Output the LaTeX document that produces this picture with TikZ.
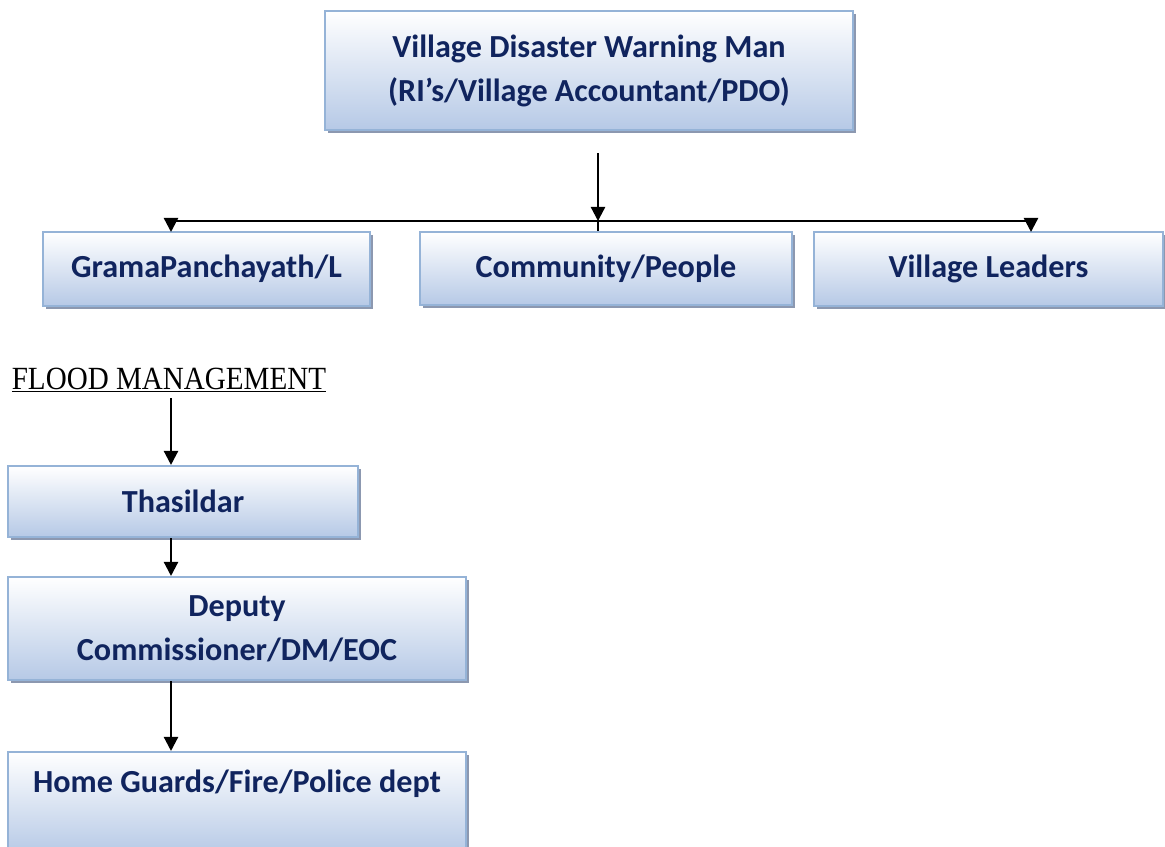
\documentclass[tikz,border=0pt]{standalone}
\usepackage{fontspec}
\setmainfont{Carlito}
\newfontfamily\floodfont[FakeStretch=0.9]{Liberation Serif}
\usetikzlibrary{arrows.meta,shadows}

\definecolor{boxtext}{RGB}{16,36,94}
\definecolor{boxline}{RGB}{149,179,215}
\definecolor{boxfill}{RGB}{182,201,230}
\definecolor{boxshadow}{RGB}{140,152,176}

\tikzset{
  level/.style={draw=boxline, line width=1.2pt, top color=white, bottom color=boxfill,
    text=boxtext, font=\fontsize{18.3}{25}\selectfont\bfseries, align=center,
    inner sep=0pt,
    drop shadow={shadow xshift=1.8pt, shadow yshift=-1.8pt, fill=boxshadow, opacity=1}},
  arrow/.style={line width=1.3pt, -{Triangle[width=8pt,length=8pt]}}
}

\begin{document}
\begin{tikzpicture}[x=0.02cm, y=-0.02cm]
            \useasboundingbox (0,0) rectangle (1165,846);
            \clip (0,0) rectangle (1165,846);
            % Define positions of the boxes
            \node[level, minimum width=10.56cm, minimum height=2.38cm] (warn) at (589, 70.5) {Village Disaster Warning Man\\(RI’s/Village Accountant/PDO)};
            \node[level, minimum width=6.54cm, minimum height=1.48cm] (gp) at (206.5, 269) {GramaPanchayath/L};
            \node[level, minimum width=7.44cm, minimum height=1.46cm] (comm) at (606, 268.5) {Community/People};
            \node[level, minimum width=6.98cm, minimum height=1.48cm] (leaders) at (988.5, 269) {Village Leaders};

            \node[font=\floodfont\fontsize{18.4}{20}\selectfont, inner sep=0pt, anchor=base] (flood) at (169, 389) {\underline{FLOOD MANAGEMENT}};
            \node[level, minimum width=7.0cm, minimum height=1.42cm] (thas) at (183, 501.5) {Thasildar};
            \node[level, minimum width=9.16cm, minimum height=2.06cm] (dep) at (237, 628.5) {Deputy\\Commissioner/DM/EOC};
            \node[level, minimum width=9.16cm, minimum height=2.06cm] (home) at (237, 803.5) {Home Guards/Fire/Police dept\\\mbox{}};

            \coordinate (warn-out) at (598, 153);
            \coordinate (hub) at (598, 221);
            \coordinate (gp-in) at (171, 232);
            \coordinate (leaders-in) at (1031, 232);
            \coordinate (spine) at (171, 0);

            % warning chain
            \draw[arrow] (warn-out) -- (hub);
            \draw[arrow] (hub) -| (gp-in);
            \draw[arrow] (hub) -| (leaders-in);
            \draw[line width=1.3pt] (hub) -- (comm.north -| hub);

            % flood chain
            \draw[arrow] ([yshift=-3pt]flood.south -| spine) -- (thas.north -| spine);
            \draw[arrow] (thas.south -| spine) -- (dep.north -| spine);
            \draw[arrow] (dep.south -| spine) -- (home.north -| spine);
\end{tikzpicture}
\end{document}
